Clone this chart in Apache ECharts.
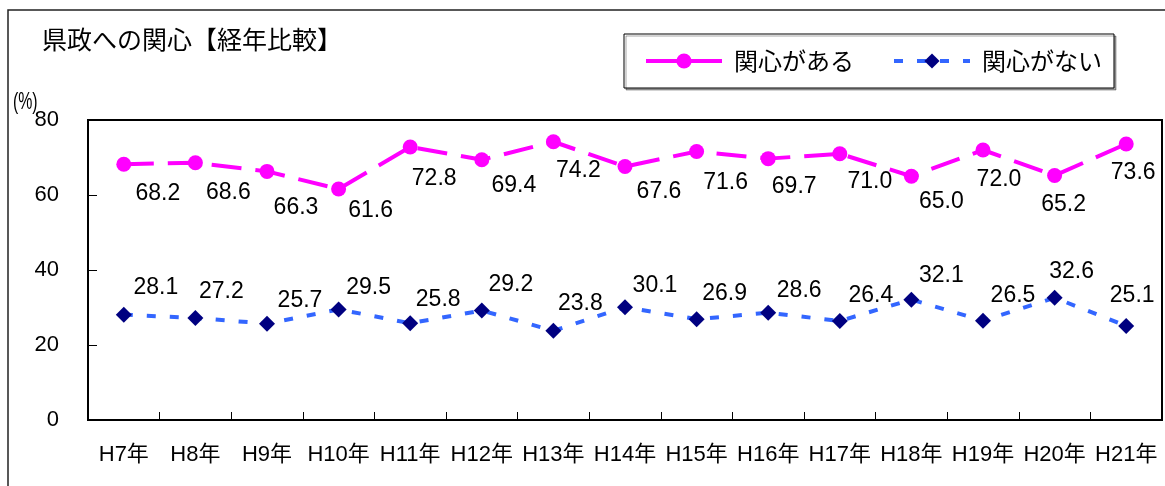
<!DOCTYPE html>
<html>
<head>
<meta charset="utf-8">
<script src="https://cdn.jsdelivr.net/npm/echarts@6/dist/echarts.min.js"></script>
<style>
  html, body { margin: 0; padding: 0; background: #fff; }
  #chart { width: 1165px; height: 486px; }
</style>
</head>
<body>
<div id="chart"></div>
<script>
// Survey years (Heisei era)
const categories = ['H7年', 'H8年', 'H9年', 'H10年', 'H11年', 'H12年', 'H13年', 'H14年',
  'H15年', 'H16年', 'H17年', 'H18年', 'H19年', 'H20年', 'H21年'];

// Share of respondents (%)
const interested = [68.2, 68.6, 66.3, 61.6, 72.8, 69.4, 74.2, 67.6, 71.6, 69.7, 71.0, 65.0, 72.0, 65.2, 73.6];
const notInterested = [28.1, 27.2, 25.7, 29.5, 25.8, 29.2, 23.8, 30.1, 26.9, 28.6, 26.4, 32.1, 26.5, 32.6, 25.1];

// Value-label nudges relative to each marker, in px
const interestedLabelOffsets = [[34, 29], [33, 30], [29, 36], [32, 22], [24, 32], [32, 26], [25, 29], [34, 25],
  [29, 31], [26, 28], [30, 28], [30, 25], [16, 30], [9, 29], [7, 29]];
const notInterestedLabelOffsets = [[32, -27], [26, -26], [33, -23], [30, -22], [28, -24], [29, -26], [27, -27], [30, -21],
  [28, -25], [31, -22], [31, -25], [30, -24], [30, -25], [17, -26], [6, -30]];

const yTicks = { min: 0, max: 80, interval: 20 };

const LATIN = "'Liberation Sans', Arial, 'Noto Sans CJK JP', sans-serif";
const CJK = "'Noto Sans CJK JP', 'Liberation Sans', sans-serif";

function withOffsets(values, offsets) {
  return values.map((v, i) => ({ value: v, label: { offset: offsets[i] } }));
}

const valueLabel = {
  show: true,
  position: 'inside',
  align: 'center',
  verticalAlign: 'middle',
  color: '#000',
  fontFamily: LATIN,
  fontSize: 23,
  formatter: p => Number(p.value).toFixed(1)
};

const chart = echarts.init(document.getElementById('chart'), null, { renderer: 'canvas' });

chart.setOption({
  animation: false,
  backgroundColor: '#fff',
  title: {
    text: '県政への関心【経年比較】',
    left: 42,
    top: 27,
    padding: 0,
    textStyle: { fontFamily: CJK, fontSize: 25, fontWeight: 'normal', color: '#000' }
  },
  legend: {
    left: 624,
    top: 34,
    padding: [15, 12, 15, 20],
    itemWidth: 76,
    itemHeight: 19,
    itemGap: 38,
    borderColor: '#000',
    borderWidth: 1,
    backgroundColor: '#fff',
    shadowColor: 'rgba(0,0,0,0.35)',
    shadowOffsetX: 2,
    shadowOffsetY: 2,
    shadowBlur: 0,
    textStyle: { fontFamily: CJK, fontSize: 24, color: '#000', lineHeight: 24, padding: [0, 0, 0, 7] },
    data: [
      { name: '関心がある', lineStyle: { type: 'solid', width: 4 } },
      { name: '関心がない', lineStyle: { type: [9, 14], width: 4 } }
    ]
  },
  grid: {
    left: 88,
    right: 3,
    top: 120,
    bottom: 66,
    show: true,
    borderColor: '#000',
    borderWidth: 2,
    backgroundColor: 'transparent'
  },
  xAxis: {
    type: 'category',
    data: categories,
    boundaryGap: true,
    axisLine: { show: true, lineStyle: { color: '#000', width: 2 } },
    axisTick: { show: true, inside: true, length: 8, interval: 0, lineStyle: { color: '#000', width: 1 } },
    axisLabel: { interval: 0, margin: 24, color: '#000', fontFamily: LATIN, fontSize: 22 },
    splitLine: { show: false }
  },
  yAxis: {
    type: 'value',
    min: yTicks.min,
    max: yTicks.max,
    interval: yTicks.interval,
    axisLine: { show: true, lineStyle: { color: '#000', width: 2 } },
    axisTick: { show: true, inside: true, length: 9, lineStyle: { color: '#000', width: 1 } },
    axisLabel: { margin: 29, color: '#000', fontFamily: LATIN, fontSize: 22 },
    splitLine: { show: false }
  },
  graphic: [
    {
      type: 'rect',
      silent: true,
      z: -10,
      shape: { x: 8, y: 10, width: 1200, height: 600 },
      style: { fill: 'none', stroke: '#222', lineWidth: 1.5 }
    },
    {
      type: 'text',
      x: 13,
      y: 90,
      scaleX: 0.66,
      style: { text: '(%)', font: "24px 'Liberation Sans', Arial, sans-serif", fill: '#000' }
    }
  ],
  series: [
    {
      name: '関心がある',
      type: 'line',
      data: withOffsets(interested, interestedLabelOffsets),
      symbol: 'circle',
      symbolSize: 15,
      showSymbol: true,
      itemStyle: { color: '#FF00FF' },
      lineStyle: { color: '#FF00FF', width: 4, type: [30, 14] },
      label: valueLabel,
      z: 3
    },
    {
      name: '関心がない',
      type: 'line',
      data: withOffsets(notInterested, notInterestedLabelOffsets),
      symbol: 'diamond',
      symbolSize: 16,
      showSymbol: true,
      itemStyle: { color: '#000080' },
      lineStyle: { color: '#3366FF', width: 4, type: [9, 14] },
      label: valueLabel,
      z: 2
    }
  ]
});
</script>
</body>
</html>
